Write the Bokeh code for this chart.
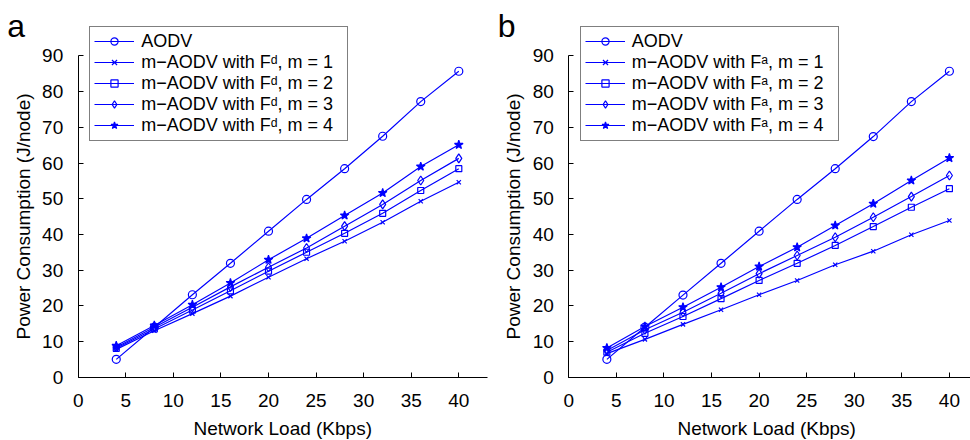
import math
from bokeh.plotting import figure
from bokeh.layouts import row
from bokeh.models import Legend, LegendItem, Label, FixedTicker
from bokeh.embed import file_html
from bokeh.resources import INLINE

load = [4, 8, 12, 16, 20, 24, 28, 32, 36, 40]

aodv_a = [5.0, 14.0, 23.1, 31.9, 40.9, 49.8, 58.4, 67.5, 77.2, 85.7]
fd_m1 = [7.8, 13.0, 17.8, 22.7, 28.0, 33.2, 38.1, 43.4, 49.3, 54.6]
fd_m2 = [8.1, 13.5, 18.8, 24.2, 29.7, 35.0, 40.3, 45.9, 52.3, 58.4]
fd_m3 = [8.4, 14.0, 19.6, 25.3, 30.8, 36.2, 42.3, 48.4, 55.1, 61.3]
fd_m4 = [8.8, 14.5, 20.3, 26.4, 32.9, 38.9, 45.3, 51.6, 59.0, 65.1]

aodv_b = [5.0, 14.0, 23.0, 31.9, 40.9, 49.8, 58.4, 67.4, 77.2, 85.7]
fa_m1 = [6.6, 10.6, 14.8, 18.9, 23.1, 27.1, 31.5, 35.3, 39.9, 43.9]
fa_m2 = [7.0, 12.3, 17.0, 22.0, 27.1, 31.9, 36.9, 42.2, 47.6, 52.8]
fa_m3 = [7.5, 13.3, 18.2, 23.5, 29.0, 34.1, 39.2, 44.8, 50.6, 56.5]
fa_m4 = [8.2, 14.2, 19.6, 25.2, 31.0, 36.4, 42.5, 48.6, 55.1, 61.4]

labels_a = ["AODV",
            "m\u2212AODV with F\u1d48, m = 1",
            "m\u2212AODV with F\u1d48, m = 2",
            "m\u2212AODV with F\u1d48, m = 3",
            "m\u2212AODV with F\u1d48, m = 4"]
labels_b = ["AODV",
            "m\u2212AODV with F\u1d43, m = 1",
            "m\u2212AODV with F\u1d43, m = 2",
            "m\u2212AODV with F\u1d43, m = 3",
            "m\u2212AODV with F\u1d43, m = 4"]

x_ticks = [0, 5, 10, 15, 20, 25, 30, 35, 40]
y_ticks = [0, 10, 20, 30, 40, 50, 60, 70, 80, 90]
x_title = "Network Load (Kbps)"
y_title = "Power Consumption (J/node)"

BLUE = "#0000FF"
FONT = "Liberation Sans"
H = 440
markers = [("circle", 8, None), ("x", 6, None), ("square", 6, None),
           ("diamond", 9, None), ("star", 9, BLUE)]

# layout (pixels): where x=0 / y=0 fall, and pixel scale of each axis
Y0_PX = 376.7
PX_PER_Y = 3.57
PX_PER_X = 9.515


def make_panel(series, labels, letter, width, x0_px, x_axis_end, xt_center):
    x_start = -x0_px / PX_PER_X
    x_end = (width - x0_px) / PX_PER_X
    y_start = -(H - Y0_PX) / PX_PER_Y
    y_end = Y0_PX / PX_PER_Y
    p = figure(width=width, height=H, x_range=(x_start, x_end),
               y_range=(y_start, y_end), output_backend="svg",
               toolbar_location=None, min_border=0)
    p.outline_line_color = None
    p.grid.visible = False
    p.background_fill_color = "white"
    p.border_fill_color = "white"
    for ax in (p.xaxis[0], p.yaxis[0]):
        ax.fixed_location = 0
        ax.major_tick_in = 5
        ax.major_tick_out = 0
        ax.minor_tick_line_color = None
        ax.axis_line_color = "black"
        ax.major_tick_line_color = "black"
        ax.major_label_text_font = FONT
        ax.major_label_text_font_size = "19px"
        ax.major_label_text_color = "black"
    p.xaxis.ticker = FixedTicker(ticks=x_ticks)
    p.yaxis.ticker = FixedTicker(ticks=y_ticks)
    p.xaxis.bounds = (0, x_axis_end)
    p.yaxis.bounds = (0, 90)
    p.xaxis.major_label_standoff = 17
    p.yaxis.major_label_standoff = 15

    items = []
    for ys, lab, (mk, sz, fill) in zip(series, labels, markers):
        ln = p.line(load, ys, line_color=BLUE, line_width=1.2)
        sc = p.scatter(load, ys, marker=mk, size=sz, line_color=BLUE,
                       fill_color=fill, line_width=1.2)
        items.append(LegendItem(label=lab, renderers=[ln, sc]))

    leg = Legend(items=items, location=(x0_px + 11.5, 299.5))
    leg.label_text_font = FONT
    leg.label_text_font_size = "18px"
    leg.label_text_color = "black"
    leg.glyph_width = 40
    leg.glyph_height = 18
    leg.label_height = 18
    leg.label_width = 202
    leg.label_standoff = 7
    leg.spacing = 0
    leg.padding = 4
    leg.margin = 0
    leg.border_line_color = "black"
    leg.border_line_width = 1
    leg.background_fill_color = "white"
    leg.background_fill_alpha = 1
    p.add_layout(leg, "center")

    # axis titles and panel letter
    p.add_layout(Label(x=x0_px + xt_center * PX_PER_X, y=12, x_units="screen",
                       y_units="screen", text=x_title, text_font=FONT,
                       text_font_size="19px", text_color="black",
                       text_align="center", text_baseline="alphabetic"))
    p.add_layout(Label(x=x0_px - 55, y=H - 216, x_units="screen",
                       y_units="screen", text=y_title, text_font=FONT,
                       text_font_size="19px", text_color="black",
                       text_align="center", text_baseline="alphabetic",
                       angle=math.pi / 2))
    p.add_layout(Label(x=x0_px - 71, y=H - 25.5, x_units="screen",
                       y_units="screen", text=letter, text_font=FONT,
                       text_font_size="32px", text_color="black",
                       text_baseline="alphabetic"))
    return p


pa = make_panel([aodv_a, fd_m1, fd_m2, fd_m3, fd_m4], labels_a, "a",
                490, 77.7, 43, 21.5)
pb = make_panel([aodv_b, fa_m1, fa_m2, fa_m3, fa_m4], labels_b, "b",
                480, 78.3, 43, 20.8)

layout = row(pa, pb)
layout.margin = 0
open("out.html", "w").write(file_html(layout, INLINE))
